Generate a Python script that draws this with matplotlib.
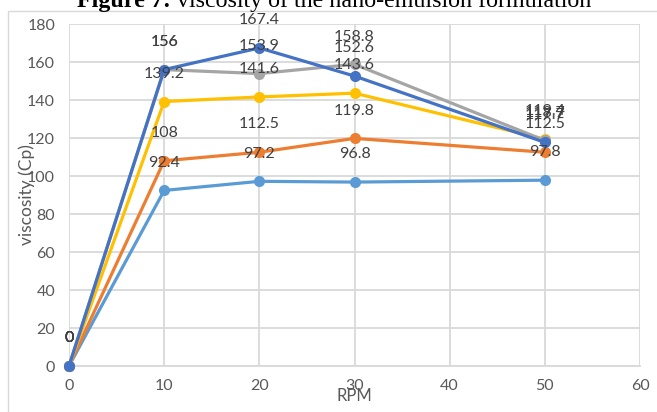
import matplotlib
matplotlib.use("Agg")
import matplotlib.pyplot as plt
from matplotlib.patches import Rectangle

rpm = [0, 10, 20, 30, 50]
series_lightblue = [0, 92.4, 97.2, 96.8, 97.8]
series_orange = [0, 108, 112.5, 119.8, 112.5]
series_yellow = [0, 139.2, 141.6, 143.6, 119.4]
series_gray = [0, 156, 153.9, 158.8, 118.7]
series_blue = [0, 156, 167.4, 152.6, 117.7]

series = [
    (series_lightblue, "#5B9BD5"),
    (series_orange, "#ED7D31"),
    (series_yellow, "#FFC000"),
    (series_gray, "#A5A5A5"),
    (series_blue, "#4472C4"),
]

title_bold = "Figure 7:"
title_rest = " viscosity of the nano-emulsion formulation"

plt.rcParams['font.family'] = ['Lato', 'DejaVu Sans']

fig = plt.figure(figsize=(6.57, 4.12), dpi=100)
ax = fig.add_axes([69/657, 1-366/412, (640-69)/657, (366-24)/412])

for vals, col in series:
    ax.plot(rpm, vals, color=col, lw=2.3, marker='o', markersize=8,
            markeredgewidth=0, zorder=3, clip_on=False)

for vals, col in series:
    for x, y in zip(rpm, vals):
        ax.annotate(f"{y:g}", (x, y), xytext=(0, 20), textcoords='offset points',
                    ha='center', va='center', fontsize=11.5, color='#404040',
                    zorder=5, annotation_clip=False)

ax.set_xlim(0, 60)
ax.set_ylim(0, 180)
ax.set_xticks(range(0, 61, 10))
ax.set_yticks(range(0, 181, 20))
ax.grid(True, color='#D9D9D9', lw=1.3)
ax.set_axisbelow(True)
for s in ['top', 'right', 'left']:
    ax.spines[s].set_visible(False)
ax.spines['bottom'].set_color('#D9D9D9')
ax.spines['bottom'].set_linewidth(1.3)
ax.tick_params(axis='y', length=0, labelsize=11.5, colors='#595959', pad=10)
ax.tick_params(axis='x', length=0, labelsize=11.5, colors='#595959', pad=9)
ax.set_xlabel("RPM", fontsize=12, color='#595959', labelpad=-3)
ax.set_ylabel("viscosity (Cp)", fontsize=12.5, color='#595959', labelpad=-6)

# chart area border
fig.patches.append(Rectangle((8/657, -0.05), 1.0, 1-11/412+0.05, transform=fig.transFigure,
                             fill=False, edgecolor='#D9D9D9', lw=1))

# title (partially cut at top)
t1 = fig.text(77/657, 1-7/412, title_bold, fontsize=17.3, fontweight='bold',
              family='Liberation Serif', ha='left', va='baseline')
fig.canvas.draw()
bb = t1.get_window_extent()
fig.text(bb.x1/657, 1-7/412, title_rest, fontsize=17.3,
         family='Liberation Serif', ha='left', va='baseline')

fig.savefig("out.png", dpi=100)
